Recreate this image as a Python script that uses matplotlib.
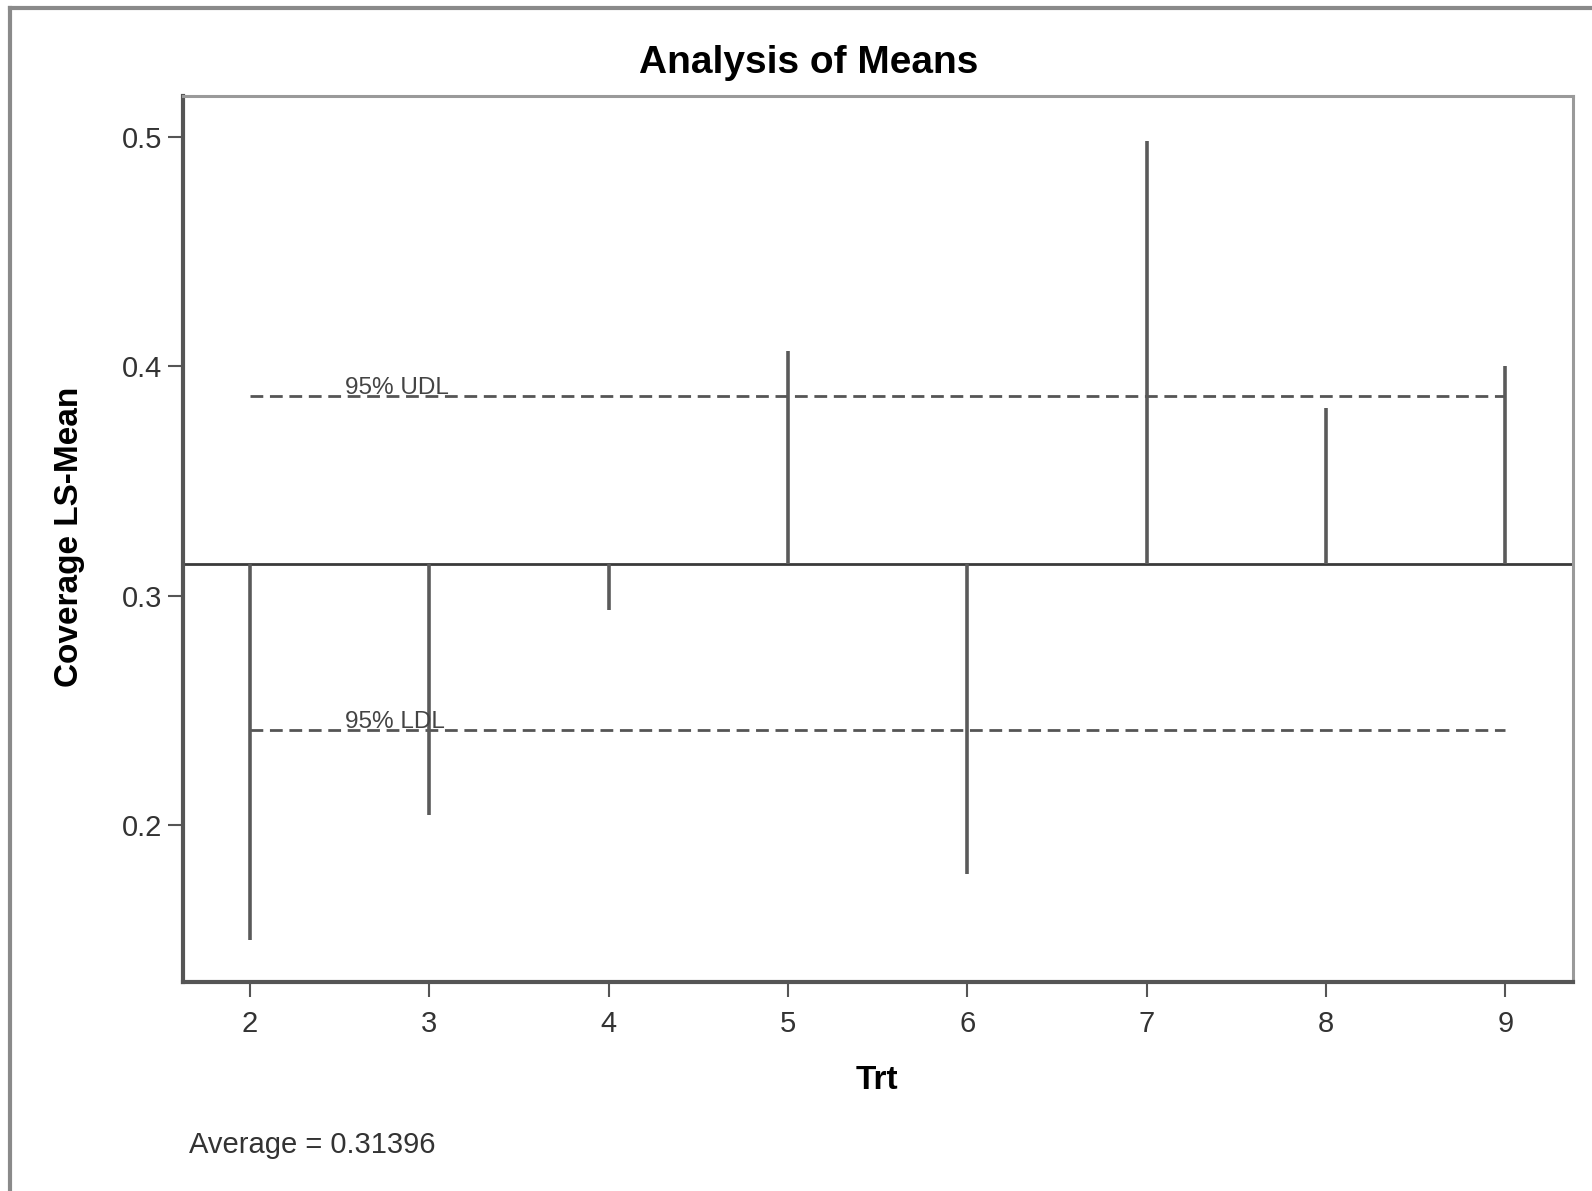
import matplotlib
matplotlib.use('Agg')
import matplotlib.pyplot as plt
from matplotlib.lines import Line2D

plt.rcParams['font.family'] = ['Liberation Sans', 'DejaVu Sans']

# data
trt = [2, 3, 4, 5, 6, 7, 8, 9]
ls_means = [0.150, 0.2045, 0.294, 0.4066, 0.179, 0.498, 0.382, 0.400]
average = 0.31396
udl = 0.3871
ldl = 0.2415
yticks = [0.2, 0.3, 0.4, 0.5]

fig = plt.figure(figsize=(15.92, 11.91), dpi=100)
ax = fig.add_axes([0.1148, 0.1755, 0.873, 0.7435])

# needles from the average to each mean
ax.vlines(trt, average, ls_means, colors='#5a5a5a', linewidth=2.6, zorder=3)

# centre line
ax.axhline(average, color='#3a3a3a', linewidth=2.0, zorder=2)

# decision limits
for lim, lab in [(udl, '95% UDL'), (ldl, '95% LDL')]:
    ln, = ax.plot([trt[0], trt[-1]], [lim, lim], color='#555555', linewidth=2.0, zorder=2)
    ln.set_dashes([4.6, 2.4])
    ax.text(2.53, lim + 0.0008, lab, fontsize=17.5, color='#444444', ha='left', va='baseline')

ax.set_xlim(1.625, 9.375)
ax.set_ylim(0.1318, 0.5176)
ax.set_xticks(trt)
ax.set_yticks(yticks)
ax.set_xticklabels([str(t) for t in trt])
ax.set_yticklabels(['%.1f' % v for v in yticks])

ax.tick_params(axis='both', direction='out', length=11, width=1.5, colors='#555555',
               labelsize=21, labelcolor='#333333')
ax.tick_params(axis='y', pad=4)
ax.tick_params(axis='x', pad=9.5)

for s in ['left', 'bottom']:
    ax.spines[s].set_color('#555555')
    ax.spines[s].set_linewidth(3)
for s in ['top', 'right']:
    ax.spines[s].set_color('#9a9a9a')
    ax.spines[s].set_linewidth(2.2)

# titles and labels
fig.text(0.508, 0.9475, 'Analysis of Means', fontsize=28, fontweight='bold', ha='center', va='center')
fig.text(0.0435, 0.549, 'Coverage LS-Mean', fontsize=24, fontweight='bold', rotation=90,
         ha='center', va='center')
fig.text(0.551, 0.093, 'Trt', fontsize=24, fontweight='bold', ha='center', va='center')
fig.text(0.119, 0.0385, 'Average = 0.31396', fontsize=21, color='#333333', ha='left', va='center')

# outer frame, visible on top and left only
fig.add_artist(Line2D([0.006, 1.0], [0.993, 0.993], transform=fig.transFigure, color='#8a8a8a', linewidth=3))
fig.add_artist(Line2D([0.006, 0.006], [0.0, 0.993], transform=fig.transFigure, color='#8a8a8a', linewidth=3))

plt.savefig('out.png', dpi=100)
